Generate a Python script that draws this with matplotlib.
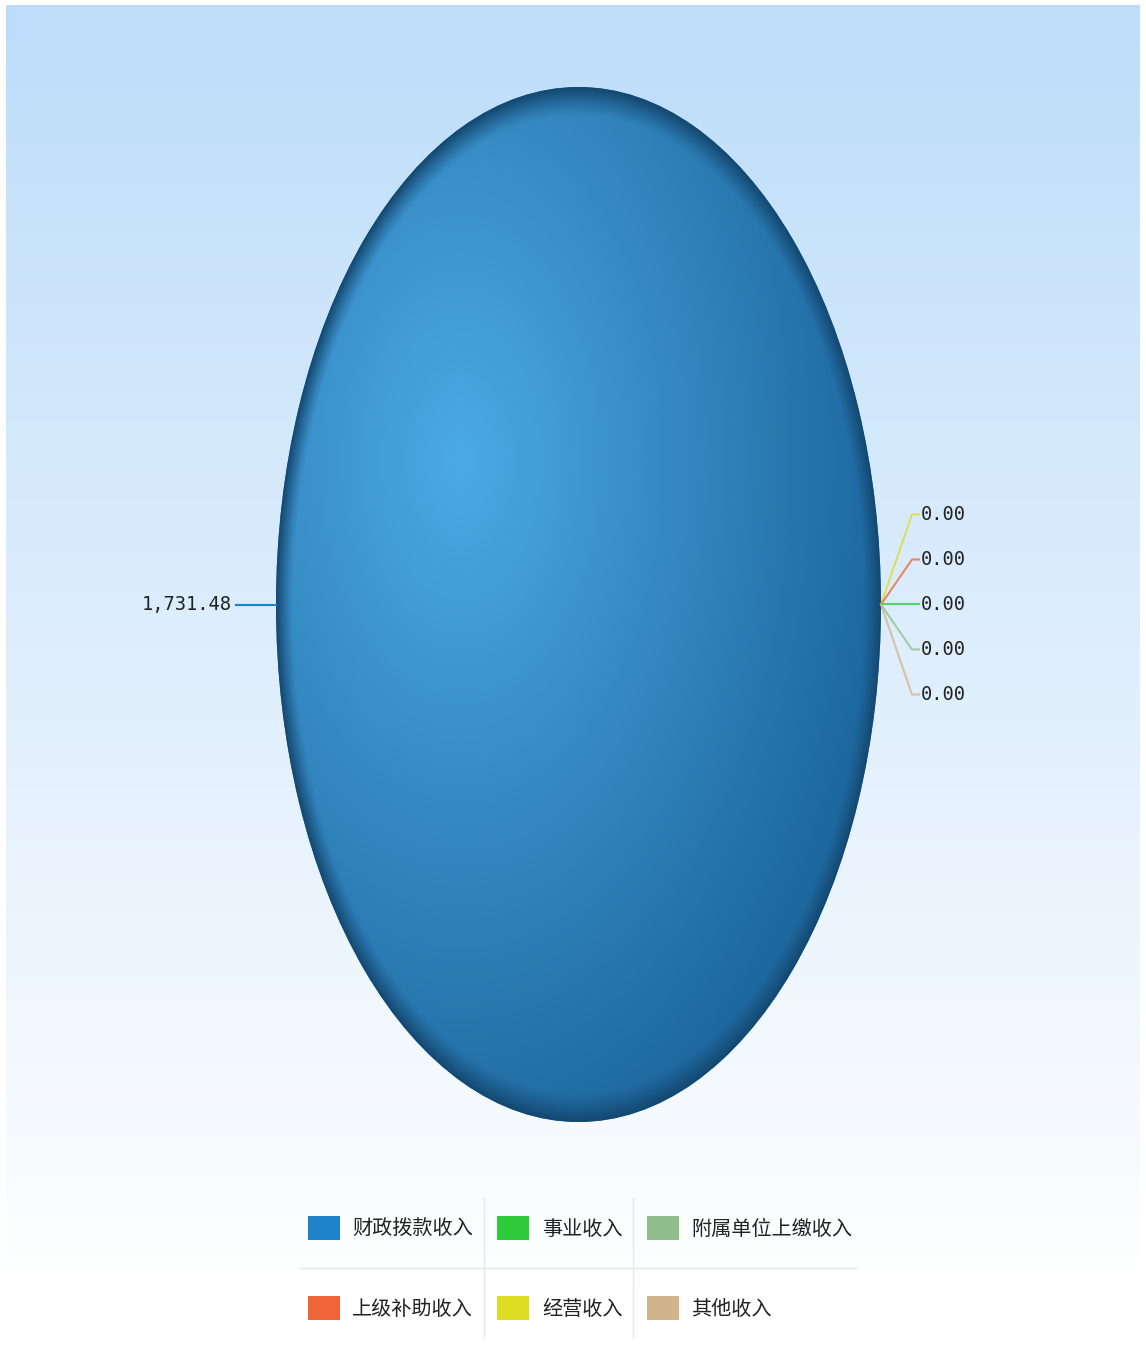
import numpy as np
import matplotlib
matplotlib.use('Agg')
import matplotlib.pyplot as plt
from matplotlib.lines import Line2D

W, H = 1146, 1347

categories = ['财政拨款收入', '上级补助收入', '事业收入', '经营收入', '附属单位上缴收入', '其他收入']
values = [1731.48, 0.00, 0.00, 0.00, 0.00, 0.00]
colors = ['#1E82C8', '#F0643A', '#2DCB3A', '#DCDC22', '#8FC08C', '#D2B48C']
# stacking order of the zero-value labels on the right, top to bottom
zero_label_order = ['经营收入', '上级补助收入', '事业收入', '附属单位上缴收入', '其他收入']

plt.rcParams['font.family'] = ['Noto Sans CJK SC', 'DejaVu Sans']


def px(x0, y0, x1, y1):
    # pixel box -> figure fraction [left, bottom, width, height]
    return [x0 / W, 1 - y1 / H, (x1 - x0) / W, (y1 - y0) / H]


fig = plt.figure(figsize=(W / 100, H / 100), dpi=100)

# background panel with vertical gradient
bg = fig.add_axes(px(6, 5, 1140, 1347))
bg.axis('off')
top = np.array([189, 221, 250]) / 255
g = np.clip(np.linspace(0, 1, 512) / 0.96, 0, 1)
bgimg = top[None, :] * (1 - g[:, None]) + g[:, None]
bg.imshow(bgimg[:, None, :], aspect='auto', extent=(0, 1, 0, 1), origin='upper')

# pie, stretched into an ellipse
ax = fig.add_axes(px(276, 87, 881, 1122))
wedges, _ = ax.pie(values, colors=colors, startangle=0, radius=1,
                   wedgeprops=dict(linewidth=0))
ax.set_xlim(-1, 1)
ax.set_ylim(-1, 1)
ax.set_aspect('auto')
ax.axis('off')
ax.patch.set_alpha(0)

# radial shading on the big slice
n = 700
u = np.linspace(-1, 1, n)
U, V = np.meshgrid(u, u[::-1])
r = np.hypot(U, V)
t = np.clip(np.hypot(U + 0.39, V - 0.28) / 1.4, 0, 1)
light = np.array([76, 170, 228])
dark = np.array([30, 104, 160])
rgb = light * (1 - t[..., None]) + dark * t[..., None]
rim = np.clip((r - 0.945) / 0.055, 0, 1) ** 1.2
rgb = rgb * (1 - rim[..., None]) + np.array([20, 72, 112]) * rim[..., None]
im = ax.imshow(rgb / 255, extent=(-1, 1, -1, 1), origin='upper',
               aspect='auto', zorder=2)
im.set_clip_path(wedges[0])

sx, sy = 302.5, 517.5  # pixels per data unit
numfont = dict(family='DejaVu Sans Mono', fontsize=13.5, color='#222222')

# big slice label (left)
w0 = wedges[0]
a = np.deg2rad((w0.theta1 + w0.theta2) / 2)
ex, ey = np.cos(a), np.sin(a)
ax.plot([ex, ex - 40 / sx], [ey, ey], color=colors[0], lw=1.5,
        clip_on=False, zorder=3)
ax.text(ex - 44 / sx, ey, f'{values[0]:,.2f}', ha='right', va='center',
        clip_on=False, **numfont)

# zero slices (right), spread out vertically
for k, name in enumerate(zero_label_order):
    i = categories.index(name)
    w = wedges[i]
    a = np.deg2rad((w.theta1 + w.theta2) / 2)
    ex, ey = np.cos(a), np.sin(a)
    ly = ey + (2 - k) * 45 / sy
    ax.plot([ex, ex + 31 / sx, ex + 38 / sx], [ey, ly, ly], color=colors[i],
            lw=1.5, alpha=0.75, clip_on=False, zorder=3)
    ax.text(ex + 40 / sx, ly, f'{values[i]:,.2f}', ha='left', va='center',
            clip_on=False, **numfont)

# legend
fig.legend(wedges, categories, ncol=3, loc='center',
           bbox_to_anchor=(580 / W, 1 - 1268 / H), frameon=False,
           fontsize=14.5, handlelength=1.6, handleheight=1.45,
           handletextpad=0.62, columnspacing=1.2, labelspacing=2.8,
           labelcolor='#222222')

sep = '#E3E8ED'
for x in (484, 633):
    fig.add_artist(Line2D([x / W, x / W], [1 - 1198 / H, 1 - 1338 / H],
                          transform=fig.transFigure, color=sep, lw=1))
fig.add_artist(Line2D([300 / W, 856 / W], [1 - 1268 / H, 1 - 1268 / H],
                      transform=fig.transFigure, color=sep, lw=1))

fig.savefig('out.png', dpi=100)
